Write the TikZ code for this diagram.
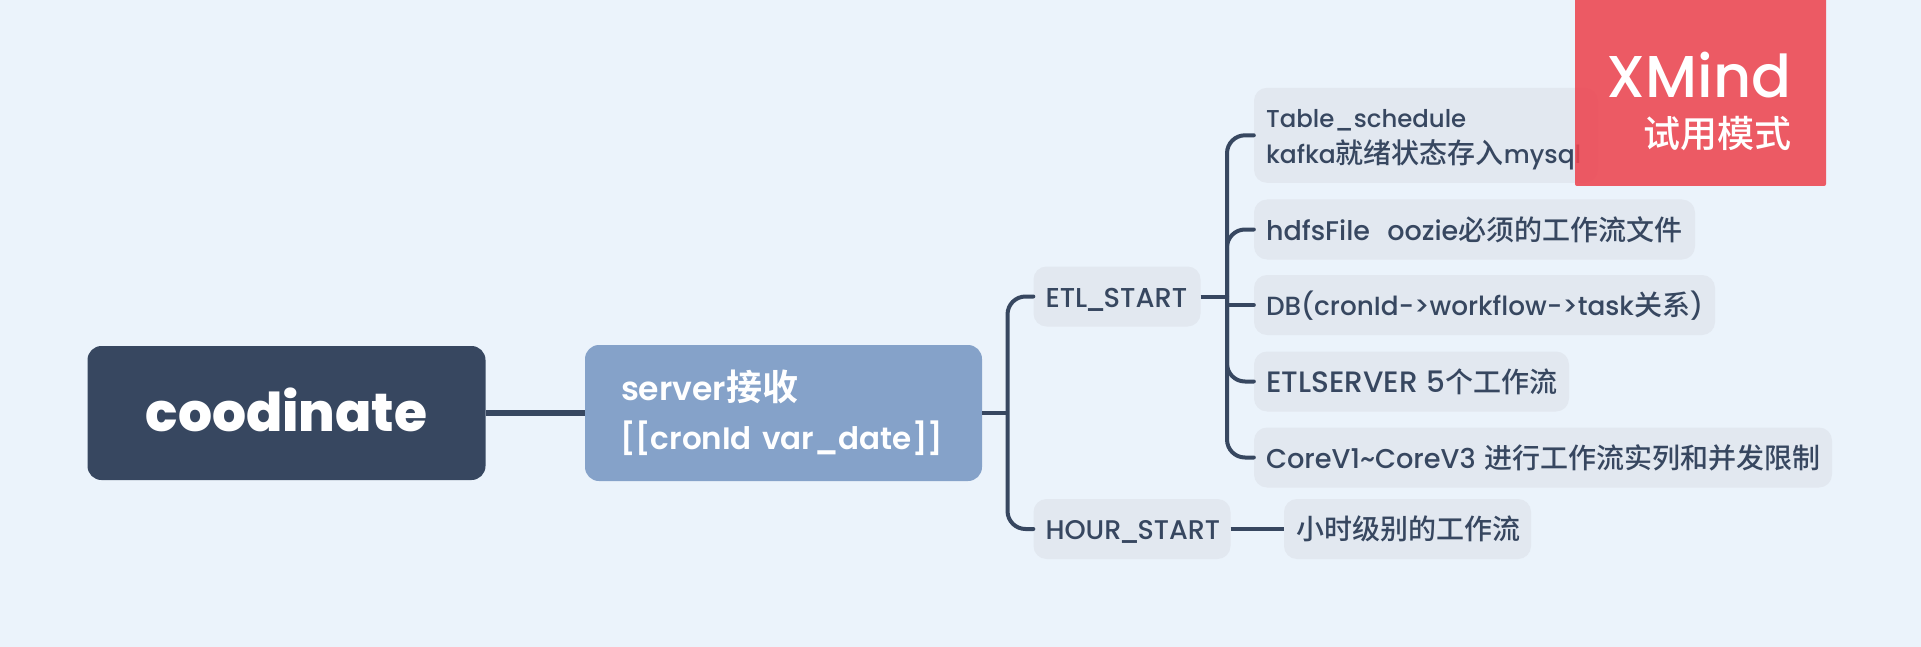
\documentclass[tikz,border=0pt]{standalone}
\usepackage{fontspec}
\setmainfont{Poppins Medium}
\newfontfamily\semi{Poppins SemiBold}
\newfontfamily\cjk{Noto Sans CJK SC Medium}
\newfontfamily\cjkb{Noto Sans CJK SC Bold}
\newcommand{\cn}[1]{{\cjk\fontsize{28}{36}\selectfont #1}}
\newcommand{\cnb}[1]{{\cjkb\fontsize{36}{49}\selectfont #1}}
\newcommand{\us}{\symbol{95}}
\newcommand{\usn}{\kern-.1em\symbol{95}\kern-.1em}
\newcommand{\fs}[1]{\fontsize{#1}{36}\selectfont}
\definecolor{bgc}{HTML}{EBF3FB}
\definecolor{dark}{HTML}{374760}
\definecolor{blue}{HTML}{85A2C9}
\definecolor{pale}{HTML}{E2E8F0}
\definecolor{redc}{HTML}{ED4550}
\tikzset{
  conn/.style={draw=dark,line width=4pt,rounded corners=18pt,line cap=round},
  pill/.style={fill=pale,rounded corners=13pt,inner xsep=12pt,inner ysep=0pt,minimum height=60pt,
    align=left,text=dark,font=\fontsize{26}{36}\selectfont,text height=24pt,text depth=3pt},
}
\begin{document}
\begin{tikzpicture}[x=1pt,y=-1pt]
\fill[bgc] (0,0) rectangle (1921,647);
\useasboundingbox (0,0) rectangle (1921,647);
% nodes
\node[fill=dark,rounded corners=14pt,minimum width=398pt,minimum height=134pt,inner sep=0pt,text=white,
  font=\fontsize{53.5}{60}\bfseries\selectfont,text height=40pt,text depth=2.6pt] (root) at (286.5,413) {coodinate};
\node[fill=blue,rounded corners=14pt,minimum width=397pt,minimum height=136pt,text width=327pt,inner xsep=35pt,inner ysep=0pt,
  align=left,text=white,font=\semi\fontsize{31}{49}\selectfont,text height=20pt,text depth=46pt] (sub) at (783.5,413)
  {{\fontsize{33}{49}\selectfont\kern1pt server}\cnb{接收}\\{[}[cronId var\us date]]};
\node[pill,text width=143pt] (etl) at (1117,296.5) {\fs{27.3}ETL\usn START};
\node[pill,text width=173pt] (hour) at (1132,529) {\fs{27}HOUR\usn START};
\node[pill,text width=223pt] (child) at (1407.5,529) {\mbox{\cn{小时级别的工作流}}};
\node[pill,text width=320pt,minimum height=95pt,text height=20pt,text depth=35.4pt] (table) at (1426,135.3)
  {{\fs{24.4}Table\us schedule}\\\fs{25}kafka\cn{就绪状态存入}mysql};
\node[pill,text width=417pt] (hdfs) at (1474.5,229.5) {\mbox{\fs{27}hdfsFile\ \ oozie\cn{必须的工作流文件}}};
\node[pill,text width=437pt] (db) at (1484.5,305) {\mbox{\fs{26.3}DB(cronId->workflow->task\cn{关系})}};
\node[pill,text width=291pt] (etls) at (1411.5,381.5) {\mbox{\fs{29.5}ETLSERVER 5\cn{个工作流}}};
\node[pill,text width=554pt] (core) at (1543,457.5) {\mbox{\fs{27.2}CoreV1\textasciitilde CoreV3 \cn{进行工作流实列和并发限制}}};
\coordinate (t1) at (1007.5,413);
\coordinate (t2) at (1227,296.5);
% connectors
\draw[conn,line width=5.5pt,line cap=butt] (root.east) -- (sub.west);
\draw[conn,line cap=butt] (sub.east) -- (t1);
\draw[conn] (etl.west) -| (t1) |- (hour.west);
\draw[conn,line cap=butt] (etl.east) -- (t2);
\draw[conn] (table.west) -| (t2) |- (core.west);
\draw[conn] (hdfs.west) -| (t2);
\draw[conn] (etls.west) -| (t2);
\draw[conn] (t2 |- db.west) -- (db.west);
\draw[conn,line cap=butt] (hour.east) -- (child.west);
% badge
\path[fill=redc,fill opacity=.88,rounded corners=2pt] (1575,-10) rectangle (1826,186);
\node[anchor=base east,text=white,inner sep=0pt,font=\fontsize{59}{60}\selectfont] (xm) at (1792,97.5) {XMind};
\node[anchor=base east,text=white,inner sep=0pt,font=\fontsize{37}{37}\selectfont] (try) at (1792,148) {{\cjk 试用模式}};
\end{tikzpicture}
\end{document}
